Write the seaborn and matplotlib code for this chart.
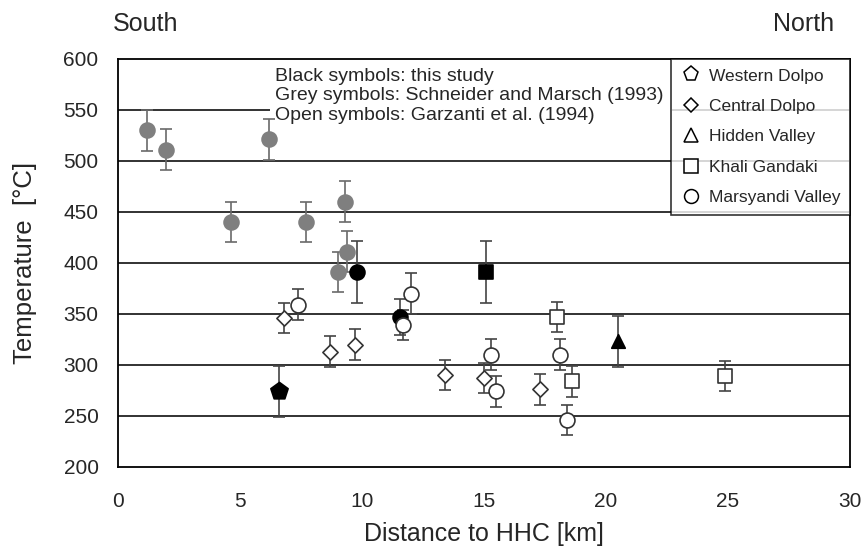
import pandas as pd
import numpy as np
import matplotlib.pyplot as plt
import seaborn as sns
from matplotlib.lines import Line2D
from matplotlib.patches import Rectangle

# Data
distance = [1.2, 1.95, 6.2, 4.65, 7.7, 9.3, 9.4, 9.0,
            6.6, 9.8, 11.55, 15.1, 20.5,
            6.8, 8.7, 9.7, 13.4, 15.0, 17.3,
            7.4, 12.0, 11.7, 15.3, 15.5, 18.1, 18.4,
            18.0, 18.6, 24.9]
temperature = [530, 511, 521, 440, 440, 460, 411, 391,
               274, 391, 347, 391, 323,
               346, 313, 320, 290, 287, 276,
               359, 370, 339, 310, 274, 310, 246,
               347, 284, 289]
error = [20, 20, 20, 20, 20, 20, 20, 20,
         25, 30, 18, 30, 25,
         15, 15, 15, 15, 15, 15,
         15, 20, 15, 15, 15, 15, 15,
         15, 15, 15]
source = ["grey"] * 8 + ["black"] * 5 + ["open"] * 16
region = (["Marsyandi Valley"] * 8
          + ["Western Dolpo", "Marsyandi Valley", "Marsyandi Valley", "Khali Gandaki", "Hidden Valley"]
          + ["Central Dolpo"] * 6
          + ["Marsyandi Valley"] * 7
          + ["Khali Gandaki"] * 3)

df = pd.DataFrame({"distance": distance, "temperature": temperature, "err": error,
                   "source": source, "region": region})

markers = {"Western Dolpo": "p", "Central Dolpo": "D", "Hidden Valley": "^",
           "Khali Gandaki": "s", "Marsyandi Valley": "o"}
sizes = {"Western Dolpo": 170, "Central Dolpo": 60, "Hidden Valley": 95,
         "Khali Gandaki": 100, "Marsyandi Valley": 115}
face = {"grey": "#7f7f7f", "black": "black", "open": "white"}
edge = {"grey": "#7f7f7f", "black": "black", "open": "#333333"}
barc = {"grey": "#6a6a6a", "black": "#444444", "open": "#444444"}

sns.set_style("white")
plt.rcParams["font.family"] = ["Liberation Sans", "DejaVu Sans"]

fig = plt.figure(figsize=(8.63, 5.5), dpi=100)
ax = fig.add_axes([0.1367, 0.151, 0.848, 0.742])

for y in range(250, 600, 50):
    ax.axhline(y, color="#222222", lw=1.3, zorder=0)

for src in ["grey", "black", "open"]:
    sub = df[df["source"] == src]
    ax.errorbar(sub["distance"], sub["temperature"], yerr=sub["err"], fmt="none",
                ecolor=barc[src], elinewidth=1.2, capsize=4, capthick=1.2, zorder=2)
    for reg, g in sub.groupby("region"):
        sns.scatterplot(data=g, x="distance", y="temperature", ax=ax,
                        marker=markers[reg], s=sizes[reg], color=face[src],
                        edgecolor=edge[src], linewidth=1.2, zorder=3, legend=False)

ax.set_xlim(0, 30)
ax.set_ylim(200, 600)
ax.set_xticks(range(0, 31, 5))
ax.set_yticks(range(200, 601, 50))
ax.tick_params(axis="both", labelsize=15, color="black", width=1, direction="out")
ax.tick_params(axis="x", length=4, pad=14)
ax.tick_params(axis="y", length=6, pad=8)
for s in ax.spines.values():
    s.set_color("black")
    s.set_linewidth(1.3)
ax.set_xlabel("Distance to HHC [km]", fontsize=18, labelpad=8)
ax.set_ylabel("Temperature  [°C]", fontsize=18.5, labelpad=19)

# source note box
ax.add_patch(Rectangle((0.2077, 0.83), 0.55, 0.17, transform=ax.transAxes,
                       facecolor="white", edgecolor="none", zorder=1))
ax.text(0.214, 0.978,
        "Black symbols: this study\nGrey symbols: Schneider and Marsch (1993)\nOpen symbols: Garzanti et al. (1994)",
        transform=ax.transAxes, va="top", ha="left", fontsize=14, linespacing=1.2, zorder=4)

handles = [Line2D([], [], linestyle="none", marker=markers[r], markerfacecolor="white",
                  markeredgecolor="black", markersize=ms, markeredgewidth=1.1, label=r)
           for r, ms in [("Western Dolpo", 11), ("Central Dolpo", 7.5), ("Hidden Valley", 10),
                         ("Khali Gandaki", 10), ("Marsyandi Valley", 10)]]
leg = ax.legend(handles=handles, loc="upper right", bbox_to_anchor=(1.0, 1.0), fontsize=12.5,
                frameon=True, fancybox=False, borderaxespad=0, handletextpad=0.4,
                labelspacing=0.88, borderpad=0.55, handlelength=1.2)
leg.get_frame().set_edgecolor("black")
leg.get_frame().set_linewidth(1.2)
leg.set_zorder(5)

fig.text(0.131, 0.956, "South", fontsize=18, ha="left", va="center")
fig.text(0.9664, 0.956, "North", fontsize=18, ha="right", va="center")

plt.savefig("out.png", dpi=100)
